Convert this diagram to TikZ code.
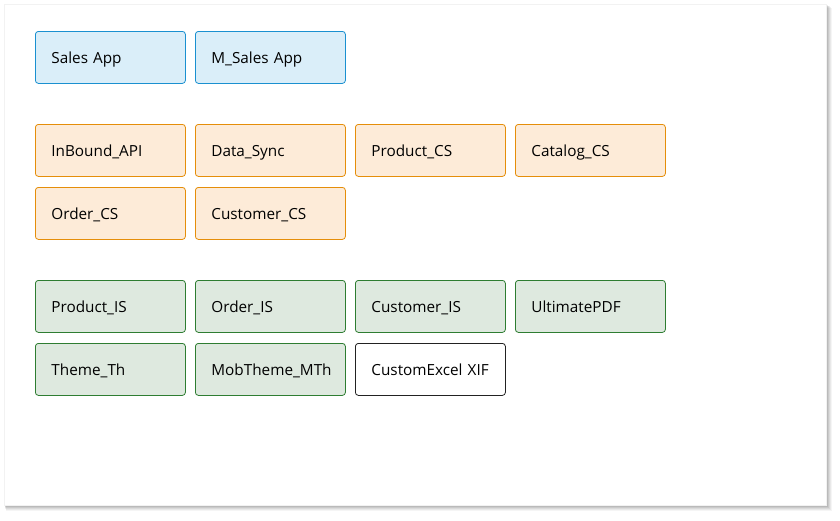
\documentclass[tikz,border=0pt]{standalone}
\usepackage{fontspec}
\setmainfont{Open Sans}
\definecolor{bluefill}{HTML}{DAEEF9}
\definecolor{blueline}{HTML}{1A90D0}
\definecolor{orfill}{HTML}{FDEBD8}
\definecolor{orline}{HTML}{E58E0A}
\definecolor{grfill}{HTML}{DEE9DF}
\definecolor{grline}{HTML}{2E7D32}
\definecolor{wline}{HTML}{222222}
\begin{document}
\begin{tikzpicture}[x=1pt,y=-1pt,
  box/.style={rounded corners=3pt,line width=0.8pt,minimum width=150pt,minimum height=52pt,anchor=north west,inner xsep=16pt,inner ysep=0pt,text width=118pt,text height=12pt,text depth=0pt,align=left,font=\fontsize{15.3pt}{18pt}\selectfont},
  bluebox/.style={box,fill=bluefill,draw=blueline},
  orbox/.style={box,fill=orfill,draw=orline},
  grbox/.style={box,fill=grfill,draw=grline},
  whbox/.style={box,fill=white,draw=wline}]
\useasboundingbox (0,0) rectangle (840,520);
\fill[white] (0,0) rectangle (840,520);
% shadow
\foreach \o/\a in {6/0.04,5/0.05,4/0.06,3/0.07,2/0.08}{
  \fill[black,opacity=\a] (4+\o*0.3,4+\o*0.6) rectangle (826+\o,505+\o);
}
\fill[white] (4,4) rectangle (826,505);
\draw[black!5,line width=0.5pt] (4,4) rectangle (826,505);
% row 1
\node[bluebox] (sales) at (35,31) {Sales App};
\node[bluebox] (msales) at (195,31) {M\_Sales App};
% row 2
\node[orbox] (inbound) at (35,124) {InBound\_API};
\node[orbox] (datasync) at (195,124) {Data\_Sync};
\node[orbox] (productcs) at (355,124) {Product\_CS};
\node[orbox] (catalogcs) at (515,124) {Catalog\_CS};
\node[orbox] (ordercs) at (35,187) {Order\_CS};
\node[orbox] (customercs) at (195,187) {Customer\_CS};
% row 3
\node[grbox] (productis) at (35,280) {Product\_IS};
\node[grbox] (orderis) at (195,280) {Order\_IS};
\node[grbox] (customeris) at (355,280) {Customer\_IS};
\node[grbox] (ultimate) at (515,280) {UltimatePDF};
\node[grbox] (theme) at (35,343) {Theme\_Th};
\node[grbox] (mobtheme) at (195,343) {MobTheme\_MTh};
\node[whbox] (excel) at (355,343) {CustomExcel XIF};
\end{tikzpicture}
\end{document}
